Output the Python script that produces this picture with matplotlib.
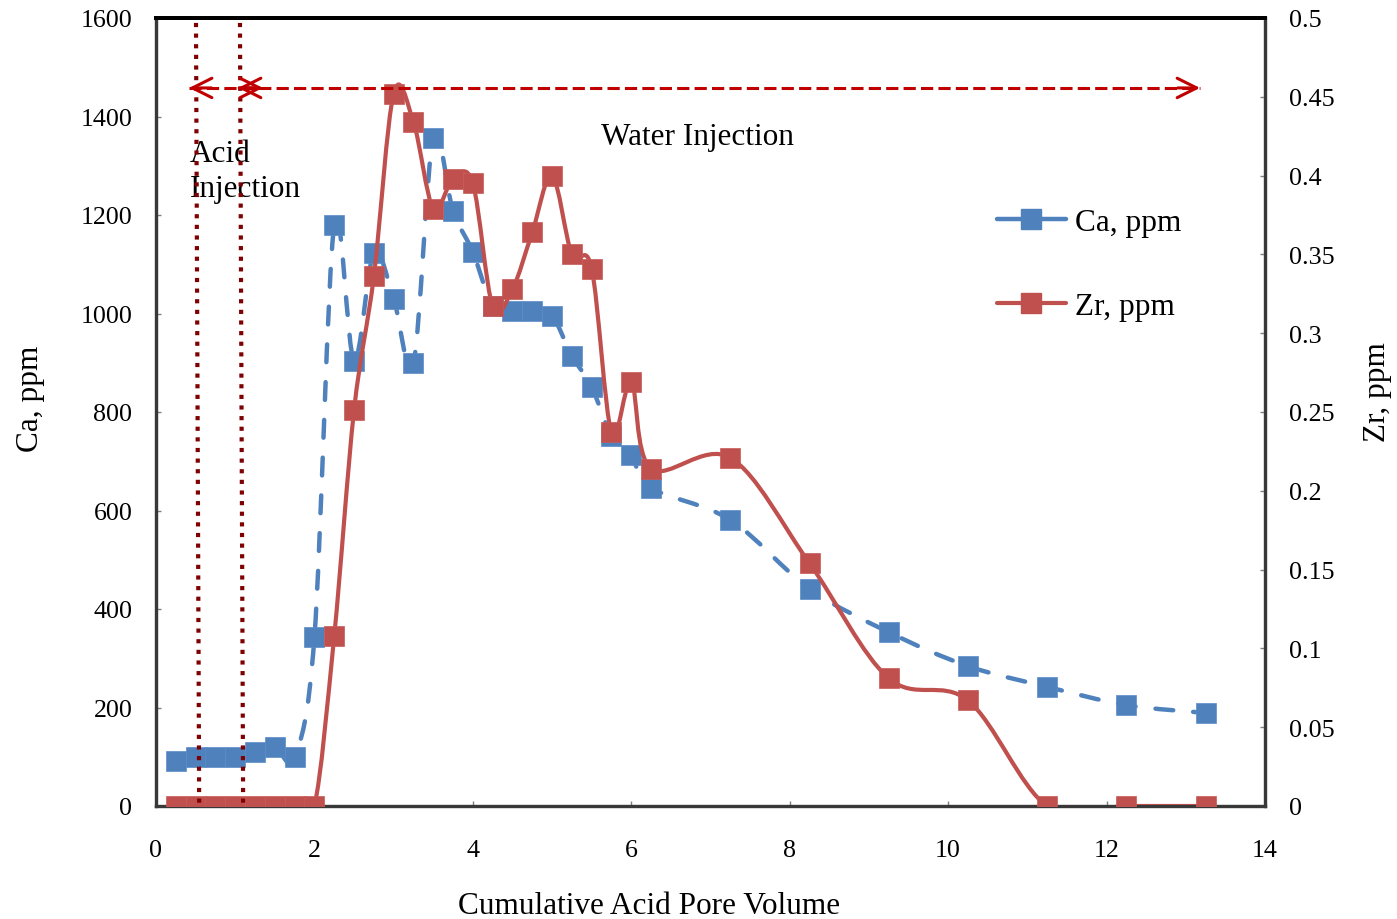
import numpy as np
import matplotlib
matplotlib.use('Agg')
import matplotlib.pyplot as plt
from matplotlib.path import Path
from matplotlib.patches import PathPatch
from matplotlib.lines import Line2D

plt.rcParams['font.family'] = ['Liberation Serif', 'DejaVu Serif']

# data
pv = [0.25, 0.5, 0.75, 1.0, 1.25, 1.5, 1.75, 2.0, 2.25, 2.5, 2.75, 3.0, 3.25, 3.5,
      3.75, 4.0, 4.25, 4.5, 4.75, 5.0, 5.25, 5.5, 5.75, 6.0, 6.25, 7.25, 8.25,
      9.25, 10.25, 11.25, 12.25, 13.25]
ca_ppm = [91, 100, 100, 100, 110, 120, 100, 343, 1180, 904, 1123, 1030, 900, 1356,
          1208, 1125, 1015, 1005, 1005, 995, 914, 851, 751, 713, 646, 581, 441,
          353, 284, 242, 205, 189]
zr_ppm = [0, 0, 0, 0, 0, 0, 0, 0, 0.108, 0.251, 0.336, 0.452, 0.434, 0.379,
          0.398, 0.395, 0.317, 0.328, 0.364, 0.400, 0.350, 0.341, 0.237, 0.269,
          0.214, 0.221, 0.154, 0.081, 0.067, 0, 0, 0]

acid_lines = [(0.505, 0.545), (1.06, 1.10)]   # dotted markers, top/bottom x
arrow_y = 1458

blue = '#4F81BD'
red = '#C0504D'


def smooth_path(x, y):
    # Excel-like smoothed line (Catmull-Rom as cubic Bezier)
    p = np.column_stack([x, y]).astype(float)
    n = len(p)
    verts = [p[0]]
    codes = [Path.MOVETO]
    for i in range(n - 1):
        p0 = p[max(i - 1, 0)]
        p1 = p[i]
        p2 = p[i + 1]
        p3 = p[min(i + 2, n - 1)]
        verts += [p1 + (p2 - p0) / 6, p2 - (p3 - p1) / 6, p2]
        codes += [Path.CURVE4] * 3
    return Path(verts, codes)


fig = plt.figure(figsize=(13.97, 9.2), dpi=100)
ax = fig.add_axes([156 / 1397, 113 / 920, 1109 / 1397, 788 / 920])
ax2 = ax.twinx()

ca_dash = (0, (4, 4.5))
ax.add_patch(PathPatch(smooth_path(pv, ca_ppm), facecolor='none', edgecolor=blue,
                       lw=3.2, linestyle=ca_dash, capstyle='round', zorder=2))
ax.plot(pv, ca_ppm, linestyle='none', marker='s', ms=14, color=blue,
        markeredgecolor='#5A8CC8', markeredgewidth=0.5, zorder=3)

ax2.add_patch(PathPatch(smooth_path(pv, zr_ppm), facecolor='none', edgecolor=red,
                        lw=3.0, capstyle='round', zorder=2))
ax2.plot(pv, zr_ppm, linestyle='none', marker='s', ms=14, color=red,
         markeredgecolor='#C85A57', markeredgewidth=0.5, zorder=3)

ax.set_xlim(0, 14)
ax.set_ylim(0, 1600)
ax2.set_ylim(0, 0.5)
ax.set_xticks(np.arange(0, 15, 2))
ax.set_yticks(np.arange(0, 1601, 200))
ax2.set_yticks([0, 0.05, 0.1, 0.15, 0.2, 0.25, 0.3, 0.35, 0.4, 0.45, 0.5])
ax2.set_yticklabels(['0', '0.05', '0.1', '0.15', '0.2', '0.25', '0.3', '0.35',
                     '0.4', '0.45', '0.5'])

for a in (ax, ax2):
    a.tick_params(direction='in', length=3.6, width=1, color='#808080',
                  labelsize=18.7, pad=17)
    for s in a.spines.values():
        s.set_color('#383838')
        s.set_linewidth(2.3)
    a.spines['top'].set_color('black')
    a.spines['top'].set_linewidth(2.8)
ax.tick_params(axis='x', pad=23.5)

ax.set_xlabel('Cumulative Acid Pore Volume', fontsize=22.5)
ax.xaxis.set_label_coords(0.4445, -0.126)
ax.xaxis.label.set_va('center')
ax.set_ylabel('Ca, ppm', fontsize=22.5)
ax.yaxis.set_label_coords(-0.1135, 0.518)
ax.yaxis.label.set_va('center')
ax2.set_ylabel('Zr, ppm', fontsize=22.5, rotation=90)
ax2.yaxis.set_label_coords(1.101, 0.527)
ax2.yaxis.label.set_va('center')

# annotations drawn on the top axes, in Ca units
tr = ax.transData
for xt, xb in acid_lines:
    ax2.plot([xt, xb], [1590, 0], transform=tr, color='#7F0000', lw=3,
             linestyle=(0, (1, 1.55)), zorder=5)

arrow_c = '#C00000'
ax2.plot([0.417, 13.18], [arrow_y, arrow_y], transform=tr, color=arrow_c, lw=2.2,
         linestyle=(0, (4, 1.7)), zorder=5)
head = dict(arrowstyle='->,head_length=0.7,head_width=0.35', color=arrow_c,
            lw=2.2, shrinkA=0, shrinkB=0, mutation_scale=20)
for tip, tail in [(0.417, 0.7), (1.35, 1.05), (1.035, 1.3), (13.18, 12.9)]:
    ax2.annotate('', xy=(tip, arrow_y), xytext=(tail, arrow_y), xycoords=tr,
                 textcoords=tr, arrowprops=head, zorder=5)

ax.text(0.43, 1289, 'Acid\nInjection', fontsize=22.5, ha='left', va='center',
        linespacing=1.27, zorder=1)
ax.text(6.84, 1360, 'Water Injection', fontsize=22.5, ha='center', va='center')

handles = [Line2D([], [], color=blue, lw=3.2, marker='s', ms=14,
                  solid_capstyle='round'),
           Line2D([], [], color=red, lw=3.0, marker='s', ms=14,
                  solid_capstyle='round')]
ax2.legend(handles, ['Ca, ppm', 'Zr, ppm'], loc='upper left', frameon=False,
           bbox_to_anchor=(997 / 1397, 1 - 209 / 920), bbox_transform=fig.transFigure,
           fontsize=22.5, borderpad=0, borderaxespad=0, handlelength=2.2,
           handletextpad=0.3, labelspacing=1.75)

fig.savefig('out.png', dpi=100)
